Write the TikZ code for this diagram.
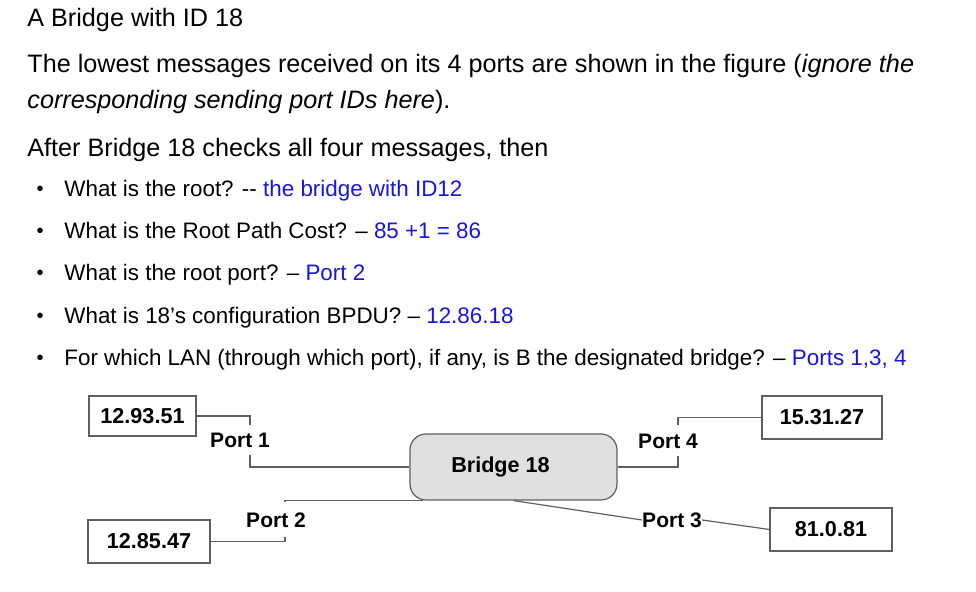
\documentclass[tikz,border=0pt]{standalone}
\usepackage{fontspec}
\setmainfont{Liberation Sans}
\usepackage{xcolor}
\usepackage{tikz}
\usetikzlibrary{
  positioning,
  calc
}
\definecolor{answerblue}{RGB}{22,22,228}
\definecolor{linkgray}{RGB}{95,95,95}
\definecolor{bridgefill}{RGB}{224,224,224}
\tikzset{
  bodytext/.style={
    anchor=base west,
    inner sep=0pt,
    font=\fontsize{12.6}{14}\selectfont
  },
  itemtext/.style={
    anchor=base west,
    inner sep=0pt,
    font=\fontsize{11.2}{13}\selectfont
  },
  itemdot/.style={
    inner sep=0pt,
    font=\fontsize{10}{12}\selectfont
  },
  msgbox/.style={
    draw=linkgray,
    line width=0.6pt,
    fill=white,
    inner sep=0pt,
    font=\fontsize{10.8}{12}\selectfont\bfseries
  },
  bridgebox/.style={
    msgbox,
    fill=bridgefill,
    rounded corners=8pt,
    minimum width=103.5pt,
    minimum height=33pt
  },
  portlabel/.style={
    inner sep=0pt,
    font=\fontsize{10.5}{12}\selectfont\bfseries
  },
  link/.style={draw=linkgray,line width=0.6pt},
  answer/.style={answerblue}
}

\begin{document}
\begin{tikzpicture}[x=0.5pt,y=-0.5pt]
  \useasboundingbox (0,0) rectangle (976,592);

  % Question text
  \node[bodytext] (title) at (27,27) {A Bridge with ID 18};
  \node[bodytext] (intro) at (27,73) {The lowest messages received on its 4 ports are shown in the figure (\textit{ignore the}};
  \node[bodytext] (intromore) at (27,109) {\textit{corresponding sending port IDs here}).};
  \node[bodytext] (after) at (27,157) {After Bridge 18 checks all four messages, then};

  % Questions and answers
  \foreach \yy/\qq/\aa [count=\i] in {
      197/{What is the root? -{}- }/{the bridge with ID12},
      239/{What is the Root Path Cost? – }/{85 +1 = 86},
      281/{What is the root port? – }/{Port 2},
      324/{What is 18’s configuration BPDU? – }/{12.86.18},
      366/{For which LAN (through which port), if any, is B the designated bridge? – }/{Ports 1,3, 4}} {
    \node[itemdot] (dot\i) at (40,\yy-6) {\textbullet};
    \node[itemtext] (item\i) at (64,\yy) {\qq\textcolor{answerblue}{\aa}};
  }

  % Bridge and received messages
  \node[bridgebox] (bridge) at (513.5,467) {\hspace*{-13pt}Bridge 18};
  \node[msgbox,minimum width=53.5pt,minimum height=20pt] (m1) at (142.5,416) {12.93.51};
  \node[msgbox,minimum width=61pt,minimum height=21.5pt] (m2) at (149,541.5) {12.85.47};
  \node[msgbox,minimum width=61pt,minimum height=21.5pt] (m3) at (831,529.5) {81.0.81};
  \node[msgbox,minimum width=60pt,minimum height=21.5pt] (m4) at (822,417.5) {15.31.27};

  % Ports
  \node[portlabel] (port1) at (240,440) {Port 1};
  \node[portlabel] (port2) at (276,520) {Port 2};
  \node[portlabel] (port3) at (672,520) {Port 3};
  \node[portlabel] (port4) at (668,441) {Port 4};
  \coordinate (p1a) at (250,425);
  \coordinate (p1b) at (250,455);
  \coordinate (p2a) at (285,537);
  \coordinate (p2b) at (285,502);
  \coordinate (p2c) at ($(bridge.south west)+(14,0)$);
  \coordinate (p4a) at (678,456);
  \coordinate (p4b) at (678,425);

  \draw[link] (m1.east) -| (p1a);
  \draw[link] (p1b) |- (bridge.west);
  \draw[link] (m2.east) -| (p2a);
  \draw[link] (p2b) |- (p2c);
  \draw[link] (bridge.south) -- (port3.west);
  \draw[link] (port3.east) -- (m3.west);
  \draw[link] (bridge.east) -| (p4a);
  \draw[link] (p4b) |- (m4.west);
\end{tikzpicture}
\end{document}
